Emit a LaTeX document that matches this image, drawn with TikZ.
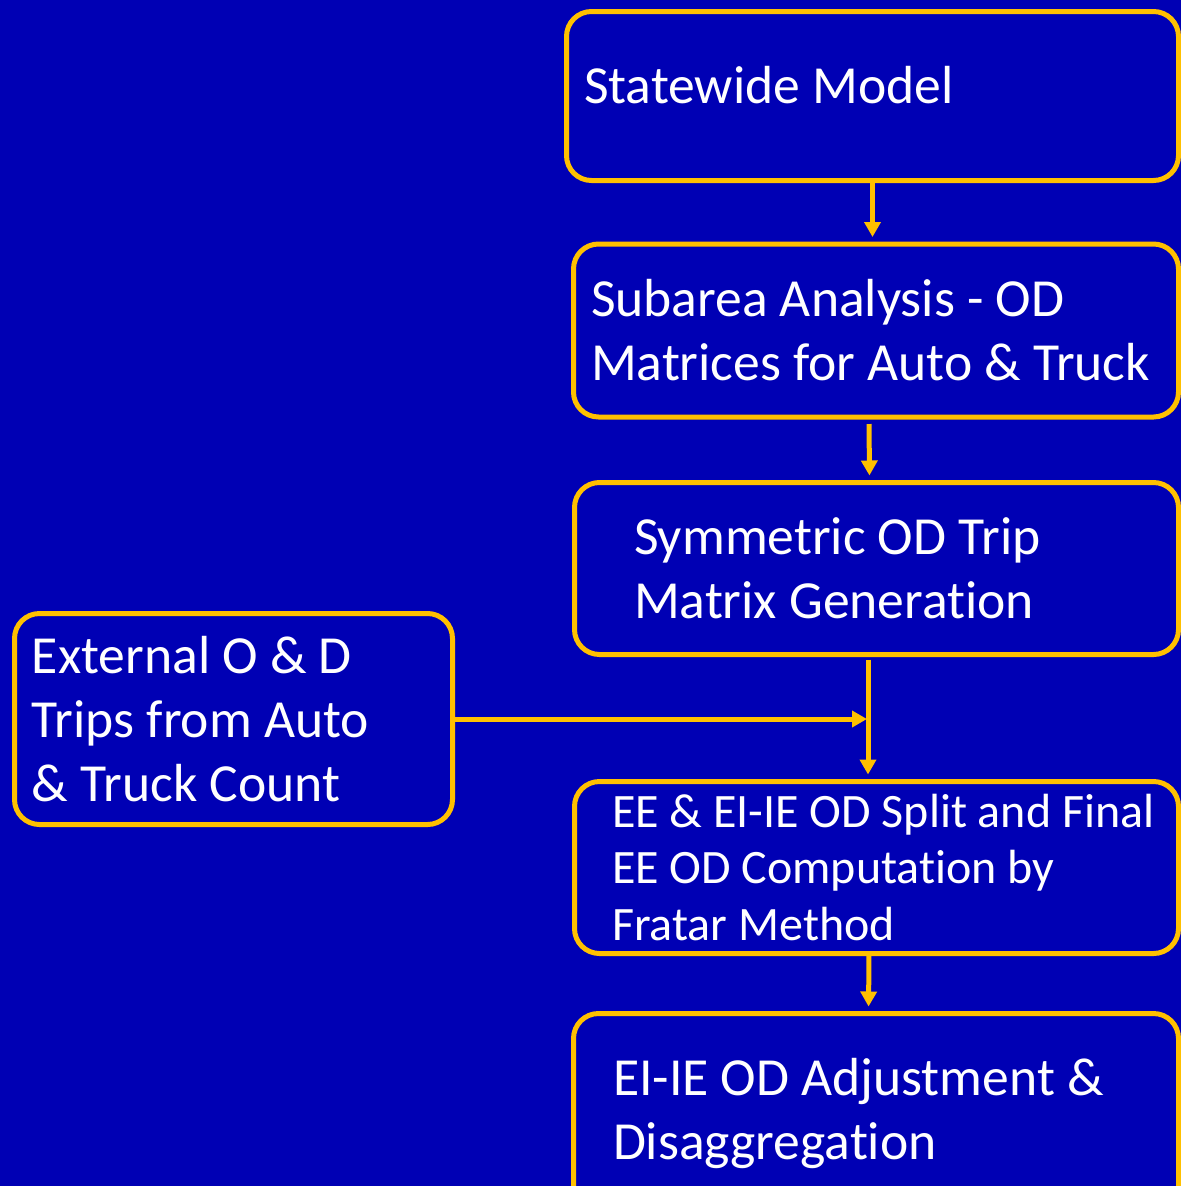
\documentclass[tikz,border=0pt]{standalone}
\usepackage{fontspec}
\setmainfont{Carlito}[Ligatures=CommonOff]
\usetikzlibrary{arrows.meta, positioning, calc}
\definecolor{slideblue}{RGB}{0, 0, 180}
\definecolor{boxgold}{RGB}{255, 192, 0}

\tikzset{
  stagebox/.style={draw=boxgold, line width=1mm, rounded corners=5mm, text=white, align=left,
    anchor=north west, outer sep=0pt, inner xsep=3mm, inner ysep=0pt, font=\fontsize{30.5}{36.4}\selectfont},
  lpad/.style={execute at begin node={\leftskip=#1\rightskip=0pt plus 1fil\spaceskip=0pt\xspaceskip=0pt}},
  flow/.style={draw=boxgold, line width=1mm, -{Triangle[width=3.2mm, length=3mm]}}
}

\begin{document}
\begin{tikzpicture}[x=0.2mm, y=-0.2mm]
  % Background
  \fill[slideblue] (0,0) rectangle (1181,1186);
  \useasboundingbox (0,0) rectangle (1181,1186);

  % Main chain of stages
  \node[stagebox, lpad=0.5mm, minimum width=122.4mm, minimum height=33.8mm, text width=116.4mm] (sw) at (566.5,11.5)
    {\raisebox{2.2mm}[\height][\depth]{Statewide Model}};
  \node[stagebox, lpad=0.5mm, minimum width=121mm, minimum height=34.6mm, text width=115mm] (sub) at (573.5,244)
    {Subarea Analysis - OD\\Matrices for Auto \& Truck};
  \node[stagebox, lpad=8.9mm, minimum width=120.8mm, minimum height=34.4mm, text width=114.8mm] (sym) at (574.5,482.5)
    {Symmetric OD Trip\\Matrix Generation};
  \node[stagebox, lpad=4.5mm, minimum width=120.8mm, minimum height=34.4mm, text width=114.8mm,
    font=\fontsize{27.3}{32.4}\selectfont] (ee) at (574.5,781.5)
    {EE \& EI-IE OD Split and Final\\EE OD Computation by\\Fratar Method};
  \node[stagebox, lpad=4.9mm, minimum width=121mm, minimum height=40mm, text width=115mm] (eiie) at (573.5,1013.5)
    {EI-IE OD Adjustment \&\\Disaggregation};

  % External counts
  \node[stagebox, lpad=0.5mm, minimum width=87.6mm, minimum height=42.2mm, text width=81.6mm] (ext) at (14.5,613.5)
    {External O \& D\\Trips from Auto\\\& Truck Count};

  % Arrows
  \draw[flow, shorten >=1.4mm] (sw.south) -- (sw.south |- sub.north);
  \draw[flow, shorten <=1.4mm, shorten >=1.4mm] ([xshift=-1.4mm]sub.south) -- ([xshift=-1.4mm]sym.north);
  \draw[flow, shorten <=1mm, shorten >=1.4mm] ([xshift=-1.7mm]sym.south) -- ([xshift=-1.7mm]ee.north);
  \coordinate (merge) at ([xshift=-1.9mm]sym.south |- ext.east);
  \draw[flow] (ext.east) -- (merge);
  \draw[flow, shorten >=1.4mm] ([xshift=-1.5mm]ee.south) -- ([xshift=-1.5mm]eiie.north);
\end{tikzpicture}
\end{document}
